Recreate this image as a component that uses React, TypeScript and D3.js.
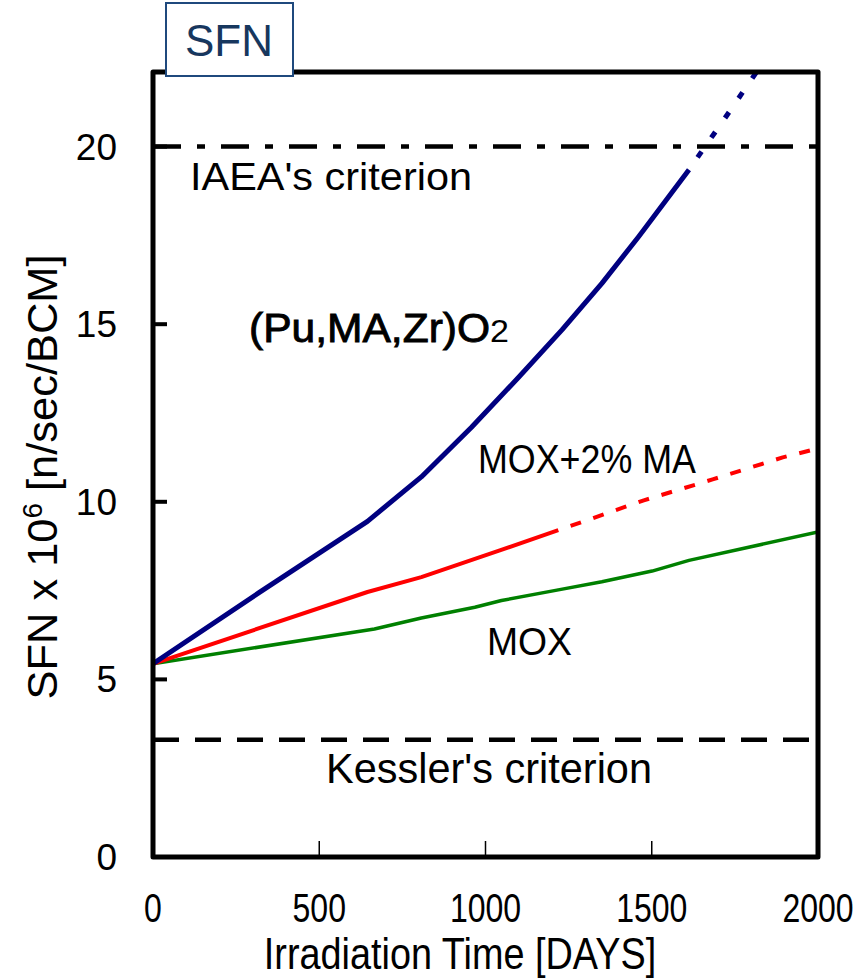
import * as d3 from 'd3'

// values (days, SFN x 10^6)
const puDays = [0, 320, 645, 807, 958, 1099, 1230, 1350, 1461, 1552, 1612]
const puSfn = [5.44, 7.45, 9.45, 10.7, 12.1, 13.5, 14.84, 16.15, 17.47, 18.6, 19.35]
const puExtDays = [1612, 1720, 1830]
const puExtSfn = [19.35, 20.8, 22.3]

const maDays = [0, 645, 807, 1043, 1219]
const maSfn = [5.44, 7.46, 7.88, 8.63, 9.2]
const maExtDays = [1219, 1476, 1683, 1894, 2000]
const maExtSfn = [9.2, 10.04, 10.63, 11.25, 11.5]

const moxDays = [0, 666, 807, 968, 1048, 1219, 1350, 1501, 1612, 2000]
const moxSfn = [5.44, 6.42, 6.73, 7.03, 7.22, 7.52, 7.75, 8.05, 8.35, 9.15]

const IAEA = 20
const KESSLER = 3.3

const xTicks = [0, 500, 1000, 1500, 2000]
const yTicks = [0, 5, 10, 15, 20]

const W = 861
const H = 979
const left = 153
const right = 818
const top = 72
const bottom = 857

const FONT = '"Liberation Sans", Arial, sans-serif'

const zip = (xs: number[], ys: number[]) => xs.map((x, i) => [x, ys[i]] as [number, number])

export default function App() {
  const x = d3.scaleLinear().domain([0, 2000]).range([left, right])
  const y = d3.scaleLinear().domain([0, 22.1]).range([bottom, top])
  const line = d3.line<[number, number]>().x((d) => x(d[0])).y((d) => y(d[1]))

  return (
    <svg width={W} height={H} style={{ position: 'absolute', left: 0, top: 0, background: '#fff' }}>
      <defs>
        <clipPath id="plot">
          <rect x={left} y={top} width={right - left} height={bottom - top} />
        </clipPath>
      </defs>

      {/* criteria */}
      <line x1={left} x2={right} y1={y(IAEA)} y2={y(IAEA)} stroke="#000" strokeWidth={4.5} strokeDasharray="28 16 8 16" />
      <line x1={left} x2={right} y1={y(KESSLER)} y2={y(KESSLER)} stroke="#000" strokeWidth={4.5} strokeDasharray="26 16" />

      {/* curves */}
      <g clipPath="url(#plot)" fill="none" strokeLinejoin="round">
        <path d={line(zip(moxDays, moxSfn)) ?? ''} stroke="#008000" strokeWidth={3.5} />
        <path d={line(zip(maDays, maSfn)) ?? ''} stroke="#ff0000" strokeWidth={4} />
        <path d={line(zip(maExtDays, maExtSfn)) ?? ''} stroke="#ff0000" strokeWidth={4} strokeDasharray="0 13 11 0" />
        <path d={line(zip(puDays, puSfn)) ?? ''} stroke="#000080" strokeWidth={5} />
        <path d={line(zip(puExtDays, puExtSfn)) ?? ''} stroke="#000080" strokeWidth={5} strokeDasharray="0 15 7 2" />
      </g>

      {/* ticks */}
      {yTicks.slice(1).map((t) => (
        <line key={t} x1={left} x2={left + 14} y1={y(t)} y2={y(t)} stroke="#000" strokeWidth={4} />
      ))}
      {xTicks.slice(1, -1).map((t) => (
        <line key={t} x1={x(t)} x2={x(t)} y1={bottom} y2={bottom - 16} stroke="#000" strokeWidth={1.5} />
      ))}

      {/* frame */}
      <rect x={left} y={top} width={right - left} height={bottom - top} fill="none" stroke="#000" strokeWidth={5} strokeLinejoin="round" />

      {/* tick labels */}
      <g fontFamily={FONT} fill="#000">
        {yTicks.map((t) => (
          <text key={t} x={117} y={y(t)} dy="0.35em" fontSize={37} textAnchor="end">{t}</text>
        ))}
        {xTicks.map((t) => (
          <g key={t} transform={`translate(${x(t)},922) scale(0.8,1)`}>
            <text textAnchor="middle" fontSize={40}>{t}</text>
          </g>
        ))}
      </g>

      {/* axis titles */}
      <g transform="translate(460,969) scale(0.86,1)">
        <text textAnchor="middle" fontFamily={FONT} fontSize={44}>Irradiation Time [DAYS]</text>
      </g>
      <text transform="translate(57,477) rotate(-90)" textAnchor="middle" fontFamily={FONT} fontSize={42} textLength={445} lengthAdjust="spacingAndGlyphs">
        SFN x 10<tspan dy="-15" fontSize={27}>6</tspan><tspan dy="15"> [n/sec/BCM]</tspan>
      </text>

      {/* annotations */}
      <g fontFamily={FONT} fill="#000">
        <text x={190} y={190} fontSize={39} textLength={282} lengthAdjust="spacingAndGlyphs">IAEA's criterion</text>
        <text x={326} y={783} fontSize={42} textLength={326} lengthAdjust="spacingAndGlyphs">Kessler's criterion</text>
        <text x={478} y={473} fontSize={41} textLength={218} lengthAdjust="spacingAndGlyphs">MOX+2% MA</text>
        <text x={487} y={655} fontSize={39} textLength={85} lengthAdjust="spacingAndGlyphs">MOX</text>
        <text x={249} y={342} fontSize={40} stroke="#000" strokeWidth={0.9} textLength={260} lengthAdjust="spacingAndGlyphs">
          (Pu,MA,Zr)O<tspan fontSize={32} strokeWidth={0}>2</tspan>
        </text>
      </g>

      {/* title box */}
      <rect x={166} y={3} width={127} height={73} fill="#fff" stroke="#1f497d" strokeWidth={2} />
      <text x={229} y={56} textAnchor="middle" fontFamily={FONT} fontSize={44} fill="#17375e">SFN</text>
    </svg>
  )
}
